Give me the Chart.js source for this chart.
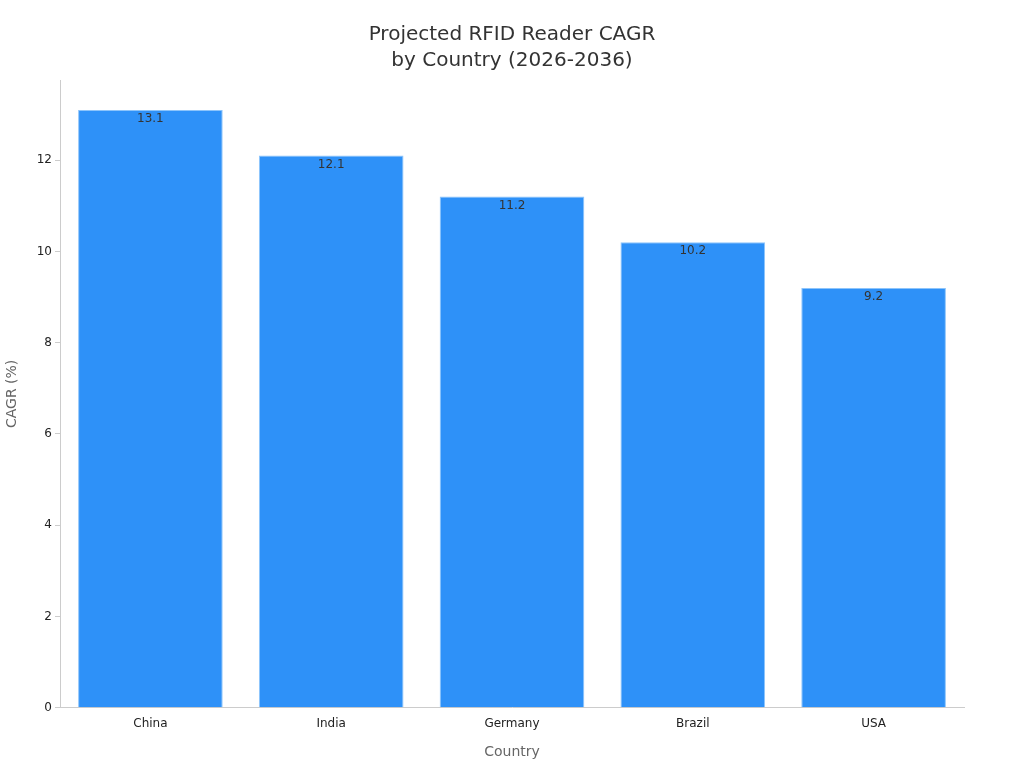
<!DOCTYPE html>
<html><head><meta charset="utf-8">
<script src="https://cdn.jsdelivr.net/npm/chart.js@4"></script>
<style>html,body{margin:0;background:#fff}#w{width:1024px;height:768px}</style>
</head><body><div id="w"><canvas id="c"></canvas></div>
<script>
const categories = ["China","India","Germany","Brazil","USA"];
const cagrValues = [13.1,12.1,11.2,10.2,9.2];
const tickValues = [0,2,4,6,8,10,12];
const titleLines = ["Projected RFID Reader CAGR","by Country (2026-2036)"];
Chart.defaults.font.family = "DejaVu Sans";
const labelPlugin = {
  id:'lbl',
  afterDatasetsDraw(chart){
    const ctx=chart.ctx, meta=chart.getDatasetMeta(0);
    ctx.save();ctx.font="12px DejaVu Sans";ctx.fillStyle="#333";ctx.textAlign="center";ctx.textBaseline="top";
    meta.data.forEach((b,i)=>ctx.fillText(cagrValues[i].toFixed(1),b.x,b.y+3));
    ctx.font="20px DejaVu Sans";ctx.textBaseline="middle";
    titleLines.forEach((t,i)=>ctx.fillText(t,chart.width/2,35+i*26));
    ctx.restore();
  }
};
new Chart(document.getElementById('c'),{
  type:'bar',
  data:{labels:categories,datasets:[{data:cagrValues,backgroundColor:'#2E91F8',borderColor:'#8cc4fb',borderWidth:1,barPercentage:0.8,categoryPercentage:1}]},
  plugins:[labelPlugin],
  options:{responsive:true,maintainAspectRatio:false,animation:false,
    layout:{padding:{left:0,right:60,top:80,bottom:3}},
    plugins:{legend:{display:false},tooltip:{enabled:false},title:{display:false}},
    scales:{
      x:{grid:{display:true,drawOnChartArea:false,color:'#ccc',tickLength:0},border:{color:'#ccc'},ticks:{color:'#222',font:{size:12},padding:9},
         title:{display:true,text:"Country",color:"#666",font:{size:14},padding:{top:4}}},
      y:{min:0,max:13.755,afterBuildTicks(s){s.ticks=tickValues.map(v=>({value:v}));},
         afterFit(s){s.width=60;},
         grid:{display:true,drawOnChartArea:false,color:'#ccc',tickLength:5},border:{color:'#ccc'},ticks:{color:'#222',font:{size:12}},
         title:{display:true,text:"CAGR (%)",color:"#666",font:{size:14}}}
    }}
});
</script></body></html>
